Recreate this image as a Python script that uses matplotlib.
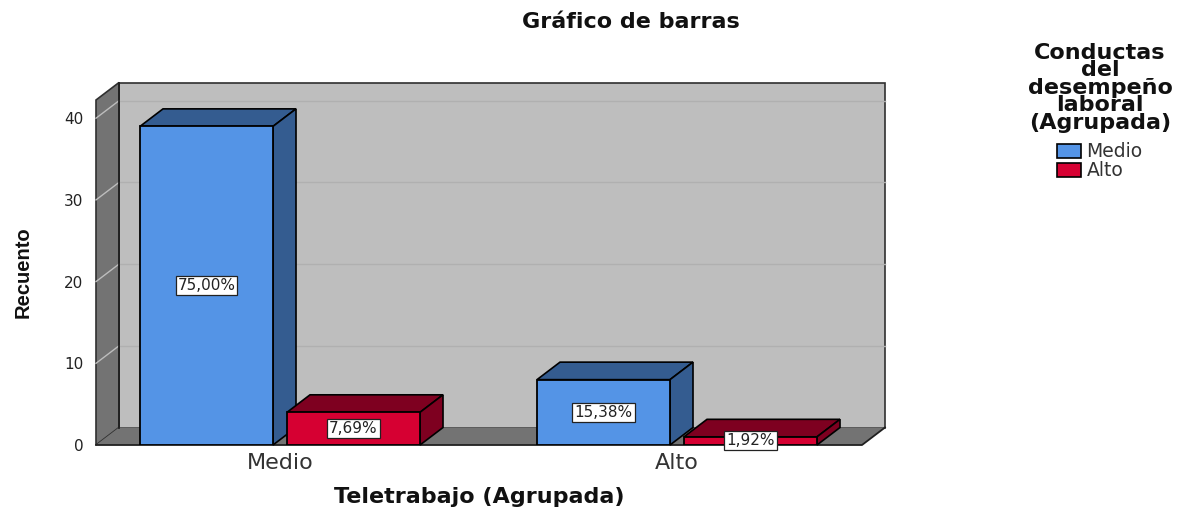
import matplotlib
matplotlib.use("Agg")
import matplotlib.pyplot as plt
from matplotlib.patches import Polygon, Patch

W, H = 1183, 508
categories = ["Medio", "Alto"]
series_names = ["Medio", "Alto"]
medio_counts = [39, 8]
alto_counts = [4, 1]
medio_labels = ["75,00%", "15,38%"]
alto_labels = ["7,69%", "1,92%"]
y_ticks = [0, 10, 20, 30, 40]

BLUE, BLUE_D = "#5494E6", "#345C90"
RED, RED_D = "#D60032", "#7E0020"
WALL, WALL_D = "#BEBEBE", "#737373"

fig = plt.figure(figsize=(W / 100, H / 100), dpi=100, facecolor="white")
ax = fig.add_axes([96 / W, (H - 445) / H, 766 / W, 345 / H])
x0, x1 = -0.4635, 1.466
y1 = 345 / 8.17
ax.set_xlim(x0, x1)
ax.set_ylim(0, y1)
for s in ax.spines.values():
    s.set_visible(False)
ax.patch.set_visible(False)

DX = 23 / 397   # depth, x units
DY = 17.5 / 8.17  # depth, y units
poly = lambda pts, fc, z, lw=1.2, ec="black": ax.add_patch(
    Polygon(pts, closed=True, fc=fc, ec=ec, lw=lw, zorder=z, clip_on=False, joinstyle="miter"))

# walls
poly([(x0 + DX, DY), (x1 + DX, DY), (x1 + DX, y1 + DY), (x0 + DX, y1 + DY)], WALL, 1, 1.2, "#303030")
poly([(x0, 0), (x0 + DX, DY), (x0 + DX, y1 + DY), (x0, y1)], WALL_D, 1.1, 1.2, "#303030")
poly([(x0, 0), (x1, 0), (x1 + DX, DY), (x0 + DX, DY)], WALL_D, 1.2, 0)
ax.plot([x0, x1, x1 + DX], [0, 0, DY], color="#202020", lw=1.3, zorder=1.3, clip_on=False)
ax.plot([x0 + DX, x0 + DX], [DY, y1 + DY], color="#202020", lw=1.3, zorder=1.3, clip_on=False)
for t in y_ticks[1:]:
    ax.plot([x0 + DX, x1 + DX], [t + DY, t + DY], color="#B0B0B0", lw=1, zorder=1.05, clip_on=False)
    ax.plot([x0, x0 + DX], [t, t + DY], color="#BDBDBD", lw=1, zorder=1.15, clip_on=False)

# bars
BW = 133 / 397
GAP = 14 / 397
z = 2
for i in range(len(categories)):
    for vals, off, fc, fd, labels in (
        (medio_counts, -(BW + GAP) / 2, BLUE, BLUE_D, medio_labels),
        (alto_counts, (BW + GAP) / 2, RED, RED_D, alto_labels),
    ):
        v = vals[i]
        c = i + off
        l, r = c - BW / 2, c + BW / 2
        poly([(l, v), (r, v), (r + DX, v + DY), (l + DX, v + DY)], fd, z)
        poly([(r, 0), (r + DX, DY), (r + DX, v + DY), (r, v)], fd, z)
        ax.bar(c, v, BW, color=fc, edgecolor="black", linewidth=1.3, zorder=z + 0.1)
        ax.text(c, v / 2, labels[i], ha="center", va="center", fontsize=11, color="#222222",
                family="DejaVu Sans", zorder=10,
                bbox=dict(boxstyle="square,pad=0.13", fc="white", ec="#222222", lw=0.9))
        z += 0.5

ax.set_xticks(range(len(categories)), categories)
ax.set_yticks(y_ticks)
ax.tick_params(axis="x", length=0, pad=6, labelsize=16, labelcolor="#333333")
ax.tick_params(axis="y", length=0, pad=9, labelsize=11, labelcolor="#222222")

ax.set_xlabel("Teletrabajo (Agrupada)", fontsize=16, fontweight="bold", labelpad=10, color="#111111")
ax.set_ylabel("Recuento", family="Liberation Sans", fontsize=14.5, fontweight="bold", color="#111111")
ax.yaxis.set_label_coords((33 - 96) / 766, (445 - 272) / 345)
fig.text(631 / W, 1 - 22 / H, "Gráfico de barras", ha="center", va="center",
         fontsize=16, fontweight="bold", color="#111111")

handles = [Patch(fc=BLUE, ec="black", lw=1.2), Patch(fc=RED, ec="black", lw=1.2)]
leg = fig.legend(handles, series_names, loc="upper center", bbox_to_anchor=(1100 / W, 1 - 43 / H),
                 frameon=False, fontsize=13.5, handlelength=1.25, handleheight=0.8,
                 handletextpad=0.3, labelspacing=0.0, borderpad=0, borderaxespad=0,
                 title="Conductas\ndel\ndesempeño\nlaboral\n(Agrupada)",
                 title_fontproperties=dict(size=16, weight="bold"))
leg.get_title().set_multialignment("center")
leg.get_title().set_linespacing(0.84)
leg.get_title().set_color("#111111")
leg._legend_box.sep = 7
for t in leg.get_texts():
    t.set_color("#333333")

fig.savefig("out.png", dpi=100, facecolor="white")
